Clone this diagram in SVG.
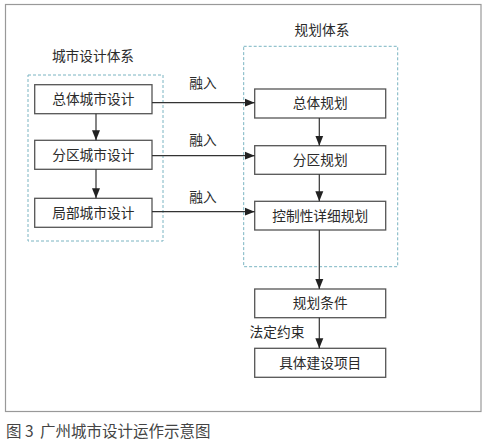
<svg xmlns="http://www.w3.org/2000/svg" width="486" height="440" viewBox="0 0 486 440">
<defs>
<style>
.box{fill:#fff;stroke:#555;stroke-width:1.3}
.grp{fill:none;stroke:#7ab4c2;stroke-width:1;stroke-dasharray:3,2}
.t{font-family:"Noto Sans CJK SC","Noto Sans",sans-serif;font-size:13.7px;fill:#2a2a2a;text-anchor:middle}
.c{stroke:#333;stroke-width:1.2;fill:none}
.cap{font-family:"Noto Sans CJK SC","Noto Sans",sans-serif;font-size:15.5px;fill:#444}
</style>
<marker id="ah" viewBox="0 0 10 10" refX="10" refY="5" markerWidth="10" markerHeight="10" markerUnits="userSpaceOnUse" orient="auto">
<path d="M0,1 L10,5 L0,9 Z" fill="#222"/>
</marker>
</defs>
<rect width="486" height="440" fill="#fff"/>
<rect x="5.5" y="4.5" width="475.5" height="407" fill="none" stroke="#999" stroke-width="1.2"/>
<g id="group-urban">
<rect class="grp" x="28" y="75" width="135" height="166"/>
<text class="t" x="93" y="61">城市设计体系</text>
</g>
<g id="group-plan">
<rect class="grp" x="243.7" y="46.3" width="154" height="220.4"/>
<text class="t" x="322" y="35">规划体系</text>
</g>
<g id="n1"><rect class="box" x="34.7" y="84.7" width="117.3" height="29"/><text class="t" x="93.3" y="104">总体城市设计</text></g>
<g id="n2"><rect class="box" x="34.7" y="140.3" width="117.3" height="29"/><text class="t" x="93.3" y="159.7">分区城市设计</text></g>
<g id="n3"><rect class="box" x="34.7" y="198.3" width="117.3" height="29"/><text class="t" x="93.3" y="217.7">局部城市设计</text></g>
<g id="p1"><rect class="box" x="254.7" y="89" width="131" height="29"/><text class="t" x="320.2" y="108.4">总体规划</text></g>
<g id="p2"><rect class="box" x="254.7" y="145.7" width="131" height="28.6"/><text class="t" x="320.2" y="165">分区规划</text></g>
<g id="p3"><rect class="box" x="254.7" y="201.3" width="131" height="28.7"/><text class="t" x="320.2" y="220.7">控制性详细规划</text></g>
<g id="p4"><rect class="box" x="254.7" y="289" width="131" height="28.7"/><text class="t" x="320.2" y="308.4">规划条件</text></g>
<g id="p5"><rect class="box" x="254.7" y="348.3" width="131" height="29"/><text class="t" x="320.2" y="367.8">具体建设项目</text></g>
<g id="connectors">
<line class="c" x1="96" y1="113.7" x2="96" y2="140.3" marker-end="url(#ah)"/>
<line class="c" x1="96" y1="169.3" x2="96" y2="198.3" marker-end="url(#ah)"/>
<line class="c" x1="152" y1="102.7" x2="254.7" y2="102.7" marker-end="url(#ah)"/>
<line class="c" x1="152" y1="155.7" x2="254.7" y2="155.7" marker-end="url(#ah)"/>
<line class="c" x1="152" y1="211.7" x2="254.7" y2="211.7" marker-end="url(#ah)"/>
<line class="c" x1="319.3" y1="118" x2="319.3" y2="145.7" marker-end="url(#ah)"/>
<line class="c" x1="319.3" y1="174.3" x2="319.3" y2="201.3" marker-end="url(#ah)"/>
<line class="c" x1="319.3" y1="230" x2="319.3" y2="289" marker-end="url(#ah)"/>
<line class="c" x1="319.3" y1="317.7" x2="319.3" y2="348.3" marker-end="url(#ah)"/>
<text class="t" x="203" y="88">融入</text>
<text class="t" x="203" y="145">融入</text>
<text class="t" x="203" y="202">融入</text>
<text class="t" x="277" y="337">法定约束</text>
</g>
<text class="cap" y="437"><tspan x="6">图</tspan><tspan x="25">3</tspan><tspan x="40">广州城市设计运作示意图</tspan></text>
</svg>
